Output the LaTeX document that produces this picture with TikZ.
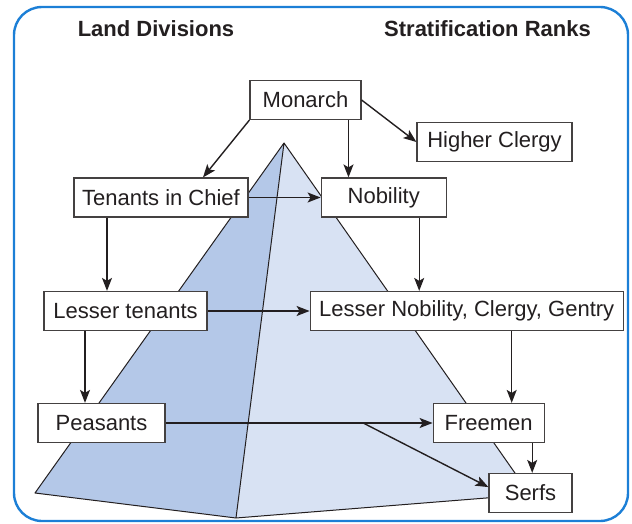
\documentclass[tikz,border=0pt]{standalone}
\usepackage{fontspec}
\setmainfont{Liberation Sans}
\usetikzlibrary{arrows.meta,positioning}
\definecolor{FrameBlue}{HTML}{1C7FD6}
\definecolor{FaceDark}{HTML}{B4C8E8}
\definecolor{FaceLight}{HTML}{D8E2F3}
\definecolor{InkGray}{HTML}{231F20}

\begin{document}
\begin{tikzpicture}[
  x=1pt, y=-1pt,
  font=\fontsize{22}{24}\selectfont,
  >={Stealth[length=13pt,width=10pt,inset=3pt]},
  % plain labelled box
  rank/.style={draw=InkGray!85, fill=white, line width=1.2pt, text=InkGray,
               minimum height=39pt, inner sep=0pt},
  % column heading
  head/.style={font=\fontsize{22}{24}\selectfont\bfseries, text=InkGray},
  % arrows
  arr/.style={->, draw=InkGray, line width=1.4pt},
  pyredge/.style={draw=InkGray, line width=1pt, line join=round},
]
\useasboundingbox (0,0) rectangle (632,524);

%% -- Frame ---------------------------------------------------------------
\draw[FrameBlue, line width=2.4pt, rounded corners=28pt] (14,7) rectangle (628,521);

%% -- Pyramid (two faces) -------------------------------------------------
\coordinate (apex)  at (284,143);
\coordinate (baseL) at (35,493);
\coordinate (baseF) at (236,518);
\coordinate (baseR) at (530,494.5);
\fill[FaceDark]  (apex) -- (baseL) -- (baseF) -- cycle;
\fill[FaceLight] (apex) -- (baseF) -- (baseR) -- cycle;
\draw[pyredge] (baseR) -- (apex) -- (baseL) -- (baseF) -- (baseR)
               (apex) -- (baseF);

%% -- Headings ------------------------------------------------------------
\node[head] (LD) at (156,29)   {Land Divisions};
\node[head] (SR) at (487.5,29) {Stratification Ranks};

%% -- Boxes ---------------------------------------------------------------
\node[rank, minimum width=111pt] (MON) at (305.5,100) {Monarch};
\node[rank, minimum width=155pt] (HC)  at (494.5,142) {Higher Clergy};
\node[rank, minimum width=174pt] (TIC) at (161,197.5) {Tenants in Chief};
\node[rank, minimum width=125pt] (NOB) [right=72pt of TIC] {Nobility};
\node[rank, minimum width=163pt] (LT)  at (125.5,311) {Lesser tenants};
\node[rank, minimum width=313pt] (LN)  [right=102pt of LT] {Lesser Nobility, Clergy, Gentry};
\node[rank, minimum width=127pt] (PEA) at (101.5,423) {Peasants};
\node[rank, minimum width=111pt] (FRE) [right=267pt of PEA] {Freemen};
\node[rank, minimum width=83pt]  (SRF) at (530.5,493) {Serfs};

%% -- Arrows --------------------------------------------------------------
\draw[arr] (MON.south west) -- ([xshift=42pt]TIC.north);
\draw[arr] ([xshift=43pt]MON.south) -- ([xshift=43pt]MON.south |- NOB.north);
\draw[arr] (MON.east) -- (HC.west);
\draw[arr] (TIC) -- (NOB);
\draw[arr] ([xshift=-54pt]TIC.south) -- ([xshift=-54pt]TIC.south |- LT.north);
\draw[arr] ([xshift=35.5pt]NOB.south) -- ([xshift=35.5pt]NOB.south |- LN.north);
\draw[arr] (LT) -- (LN);
\draw[arr] ([xshift=-40.5pt]LT.south) -- ([xshift=-40.5pt]LT.south |- PEA.north);
\draw[arr] ([xshift=45pt]LN.south) -- ([xshift=45pt]LN.south |- FRE.north);
\draw[arr] (PEA) -- coordinate[pos=0.74] (split) (FRE);
\draw[arr] (split) -- (SRF.172);
\draw[arr] ([xshift=43.5pt]FRE.south) -- ([xshift=43.5pt]FRE.south |- SRF.north);

\end{tikzpicture}
\end{document}
